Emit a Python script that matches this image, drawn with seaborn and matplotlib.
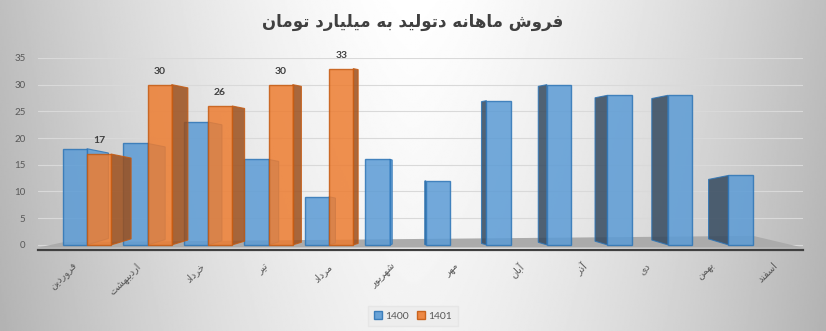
import numpy as np
import pandas as pd
import matplotlib
matplotlib.use("Agg")
import matplotlib.pyplot as plt
import matplotlib.transforms as mtransforms
from matplotlib.patches import Polygon, Patch
import seaborn as sns

# ---------------- data ----------------
title = "فروش ماهانه دتولید به میلیارد تومان"
months = ["فروردین", "اردیبهشت", "خرداد", "تیر", "مرداد", "شهریور",
          "مهر", "آبان", "آذر", "دی", "بهمن", "اسفند"]
years = ["1400", "1401"]
sales_1400 = [18, 19, 23, 16, 9, 16, 12, 27, 30, 28, 28, 13]
sales_1401 = [17, 30, 26, 30, 33, None, None, None, None, None, None, None]
y_ticks = [0, 5, 10, 15, 20, 25, 30, 35]

# ---------------- Arabic/Persian shaping (presentation forms + RTL) ----------------
FORMS = {
    "\u0627": ("\uFE8D", "\uFE8E", None, None),
    "\u0622": ("\uFE81", "\uFE82", None, None),
    "\u0628": ("\uFE8F", "\uFE90", "\uFE91", "\uFE92"),
    "\u062A": ("\uFE95", "\uFE96", "\uFE97", "\uFE98"),
    "\u062E": ("\uFEA5", "\uFEA6", "\uFEA7", "\uFEA8"),
    "\u062F": ("\uFEA9", "\uFEAA", None, None),
    "\u0630": ("\uFEAB", "\uFEAC", None, None),
    "\u0631": ("\uFEAD", "\uFEAE", None, None),
    "\u0633": ("\uFEB1", "\uFEB2", "\uFEB3", "\uFEB4"),
    "\u0634": ("\uFEB5", "\uFEB6", "\uFEB7", "\uFEB8"),
    "\u0641": ("\uFED1", "\uFED2", "\uFED3", "\uFED4"),
    "\u0644": ("\uFEDD", "\uFEDE", "\uFEDF", "\uFEE0"),
    "\u0645": ("\uFEE1", "\uFEE2", "\uFEE3", "\uFEE4"),
    "\u0646": ("\uFEE5", "\uFEE6", "\uFEE7", "\uFEE8"),
    "\u0647": ("\uFEE9", "\uFEEA", "\uFEEB", "\uFEEC"),
    "\u0648": ("\uFEED", "\uFEEE", None, None),
    "\u06CC": ("\uFBFC", "\uFBFD", "\uFBFE", "\uFBFF"),
}


def shape(text):
    text = text.replace("\u064A", "\u06CC")
    out = []
    n = len(text)
    for i, c in enumerate(text):
        f = FORMS.get(c)
        if f is None:
            out.append(c)
            continue
        prev = text[i - 1] if i > 0 else None
        nxt = text[i + 1] if i < n - 1 else None
        jp = prev in FORMS and FORMS[prev][2] is not None
        jn = f[2] is not None and nxt in FORMS
        if jp and jn:
            g = f[3]
        elif jp:
            g = f[1]
        elif jn:
            g = f[2]
        else:
            g = f[0]
        out.append(g)
    return "".join(reversed(out))


# ---------------- style ----------------
plt.rcParams["font.family"] = ["Lato", "DejaVu Sans"]
blue, orange = "#5b9bd5", "#ed7d31"
blue_edge, orange_edge = "#2e75b6", "#c55a11"
text_col = "#595959"

df = pd.DataFrame({
    "month": months * 2,
    "year": [years[0]] * len(months) + [years[1]] * len(months),
    "value": sales_1400 + sales_1401,
})
df["value"] = pd.to_numeric(df["value"])

fig = plt.figure(figsize=(8.26, 3.31), dpi=100)

# background gradient
bg = fig.add_axes([0, 0, 1, 1], zorder=-10)
gx = np.linspace(0, 1, 500)
gy = np.linspace(0, 1, 200)
X, Y = np.meshgrid(gx, gy)
V = 1 - 0.25 * np.abs(2 * X - 1) ** 1.5 - 0.05 * Y
bg.imshow(V, cmap="gray", vmin=0, vmax=1, aspect="auto", extent=[0, 1, 0, 1], origin="upper")
bg.axis("off")

ax = fig.add_axes([0.046, 0.245, 0.926, 0.58])
ax.patch.set_alpha(0)

sns.barplot(data=df, x="month", y="value", hue="year", order=months, hue_order=years,
            palette=[blue, orange], width=0.8, saturation=1, ax=ax, legend=False,
            errorbar=None)

ax.set_xlim(-0.81, 11.83)
ax.set_ylim(-0.94, 35)

# floor
floor = Polygon([(0, 0.012), (1, 0.012), (0.935, 0.073), (0.033, 0.04)], closed=True,
                transform=ax.transAxes, facecolor="#ababab", edgecolor="none",
                alpha=1.0, zorder=1.5)
ax.add_patch(floor)

# pseudo 3D side faces derived from each bar
xv = 5.5
k = 0.062
px_per_x = 60.5
px_per_y = 5.34
side_colors = {0: ("#5b9bd5", "#34495e"), 1: ("#9c4f1c", "#9c4f1c")}
edges = [blue_edge, orange_edge]
for hi, cont in enumerate(ax.containers):
    for bar in cont:
        h = bar.get_height()
        if not np.isfinite(h) or h == 0:
            continue
        x0, w = bar.get_x(), bar.get_width()
        xc = x0 + w / 2
        dx = k * (xv - xc)
        dyb = abs(dx) * px_per_x * 0.3 / px_per_y
        dyt = abs(dx) * px_per_x * 0.2 / px_per_y
        if dx > 0:
            xe = x0 + w
            col = side_colors[hi][0]
        else:
            xe = x0
            col = side_colors[hi][1]
        poly = Polygon([(xe, 0), (xe + dx, dyb), (xe + dx, h - dyt), (xe, h)],
                       closed=True, facecolor=col, edgecolor=edges[hi], lw=0.8,
                       alpha=0.85, zorder=2 + 2 * hi)
        ax.add_patch(poly)
        bar.set_alpha(0.85)
        bar.set_edgecolor(edges[hi])
        bar.set_linewidth(1.0)
        bar.set_zorder(3 + 2 * hi)
        if hi == 1:
            ax.text(xc, h + 1.7, f"{h:.0f}", ha="center", va="bottom", fontsize=7.5,
                    fontweight="bold", color="#404040", zorder=10)

# axes styling
for s in ["top", "right", "left"]:
    ax.spines[s].set_visible(False)
ax.spines["bottom"].set_color("#404040")
ax.spines["bottom"].set_linewidth(1.6)
ax.spines["bottom"].set_zorder(8)
ax.set_yticks(y_ticks)
ax.set_yticklabels([str(t) for t in y_ticks], fontsize=7, color=text_col)
ax.tick_params(axis="y", length=0, pad=9)
ax.yaxis.grid(True, color="#d9d9d9", lw=0.8)
ax.set_axisbelow(True)
ax.set_xlabel("")
ax.set_ylabel("")

ax.set_xticks(range(len(months)))
ax.set_xticklabels([shape(m) for m in months], rotation=45, ha="right", va="top",
                   rotation_mode="anchor", fontsize=7, color=text_col,
                   family="DejaVu Sans")
ax.tick_params(axis="x", length=0, pad=8)
for i, lab in enumerate(ax.get_xticklabels()):
    off = 3.2 * (i - 4.7)
    lab.set_transform(lab.get_transform() +
                      mtransforms.ScaledTranslation(off / 100, 0, fig.dpi_scale_trans))

# title
fig.text(0.5, 0.934, shape(title), ha="center", va="center", fontsize=12,
         fontweight="bold", color="#404040", family="DejaVu Sans")

# legend
handles = [Patch(facecolor=blue, edgecolor=blue_edge, alpha=0.9),
           Patch(facecolor=orange, edgecolor=orange_edge, alpha=0.9)]
leg = fig.legend(handles, years, loc="center", bbox_to_anchor=(0.5, 0.045), ncol=2,
                 frameon=True, facecolor="#ececec", edgecolor="#e4e4e4", fontsize=7.5,
                 handlelength=0.8, handleheight=0.8, columnspacing=0.8,
                 handletextpad=0.3, borderpad=0.5, fancybox=False)
for t in leg.get_texts():
    t.set_color(text_col)

fig.savefig("out.png", dpi=100)
